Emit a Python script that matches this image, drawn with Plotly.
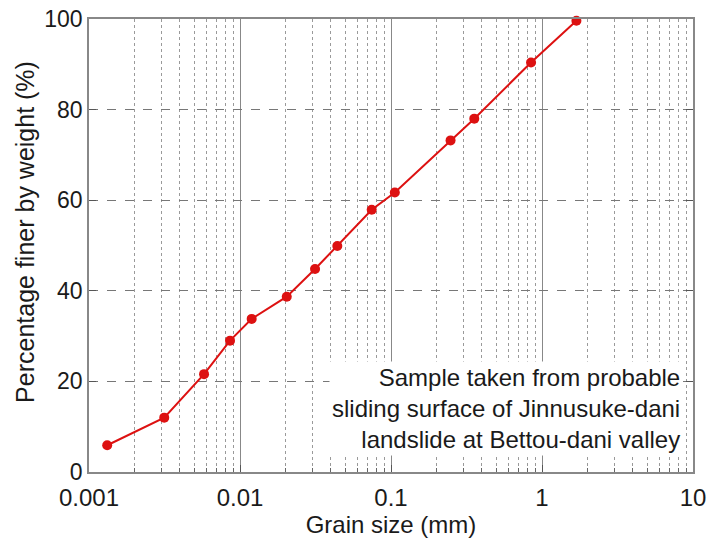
import plotly.graph_objects as go

grain_size_mm = [0.00132, 0.00315, 0.00578, 0.00859, 0.01195, 0.0204, 0.0314, 0.0441,
                 0.0745, 0.106, 0.248, 0.356, 0.846, 1.69]
percent_finer = [5.9, 12.0, 21.6, 29.0, 33.8, 38.7, 44.8, 49.9, 57.9, 61.7, 73.2, 78.0, 90.4, 99.6]

x_tickvals = [0.001, 0.01, 0.1, 1, 10]
x_ticktext = ["0.001", "0.01", "0.1", "1", "10"]
x_minor_vals = [k * d for d in [0.001, 0.01, 0.1, 1] for k in range(2, 10)]
y_tickvals = [0, 20, 40, 60, 80, 100]

note_lines = ["Sample taken from probable",
              "sliding surface of Jinnusuke-dani",
              "landslide at Bettou-dani valley"]
y_title = "Percentage finer by weight (%)"
x_title = "Grain size (mm)"

font_family = "Liberation Sans, Arial, sans-serif"
text_color = "#1a1a1a"

fig = go.Figure()
fig.add_trace(go.Scatter(
    x=grain_size_mm, y=percent_finer, mode="lines+markers",
    line=dict(color="#dd1111", width=2),
    marker=dict(color="#dd1111", size=10, symbol="circle"),
    showlegend=False, cliponaxis=False,
))

fig.add_annotation(
    x=1, xref="paper", xanchor="right", xshift=-10,
    y=0, yref="paper", yanchor="bottom", yshift=16,
    text="<br>".join(note_lines), align="right", showarrow=False,
    font=dict(family=font_family, size=24, color=text_color),
    bgcolor="white", borderpad=2,
)

# y-axis title placed as rotated text (sits slightly above the plot centre in the reference)
fig.add_annotation(
    x=0, xref="paper", xanchor="center", xshift=-64,
    y=0.53, yref="paper", yanchor="middle",
    text=y_title, textangle=-90, showarrow=False,
    font=dict(family=font_family, size=25, color=text_color),
)

fig.update_xaxes(
    type="log", range=[-3, 1], tickvals=x_tickvals, ticktext=x_ticktext,
    showgrid=True, gridcolor="#888888", gridwidth=1, griddash="solid",
    minor=dict(tickvals=x_minor_vals, showgrid=True, gridcolor="#9a9a9a", griddash="dot",
               gridwidth=1, ticks="inside", ticklen=4, tickcolor="#666666"),
    ticks="inside", ticklen=7, tickcolor="#555555",
    showline=True, linecolor="#888888", linewidth=1.5, mirror=True,
    zeroline=False, ticklabelstandoff=3, automargin=False,
    title=dict(text=x_title, font=dict(family=font_family, size=24, color=text_color), standoff=7),
    tickfont=dict(family=font_family, size=24, color=text_color),
)
fig.update_yaxes(
    range=[0, 100], tickvals=y_tickvals,
    showgrid=True, gridcolor="#777777", gridwidth=1, griddash="dash",
    ticks="inside", ticklen=7, tickcolor="#555555",
    showline=True, linecolor="#888888", linewidth=1.5, mirror="ticks",
    zeroline=False, automargin=False,
    tickfont=dict(family=font_family, size=23, color=text_color),
)

fig.update_layout(
    width=712, height=542,
    margin=dict(l=89, r=19, t=19, b=70, autoexpand=False),
    plot_bgcolor="white", paper_bgcolor="white",
)

fig.write_html("out.html")
